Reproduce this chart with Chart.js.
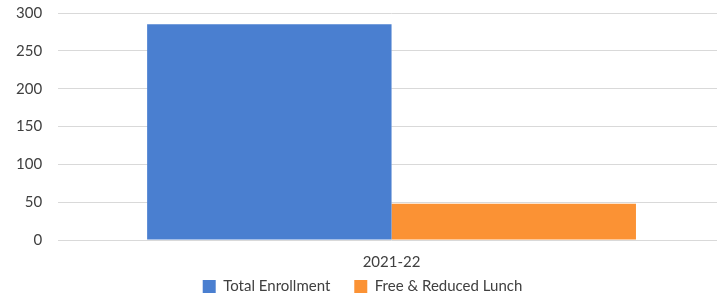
<!DOCTYPE html>
<html>
<head>
<meta charset="utf-8">
<script src="https://cdn.jsdelivr.net/npm/chart.js@4/dist/chart.umd.min.js"></script>
<style>
  html, body { margin: 0; padding: 0; background: #fff; overflow: hidden; }
  .chart-box { width: 725px; height: 296px; }
</style>
</head>
<body>
<div class="chart-box"><canvas id="enrollment-chart"></canvas></div>
<script>
// Data
const years = ['2021-22'];
const totalEnrollment = [285];
const freeReducedLunch = [48];
const yTicks = [0, 50, 100, 150, 200, 250, 300];

const textColor = '#404040';
const gridColor = '#d9d9d9';

Chart.defaults.font.family = 'Lato, "Open Sans", sans-serif';
Chart.defaults.font.size = 15;
Chart.defaults.color = textColor;

// legend keeps a wide gap between items but sits close under the x labels
const legendShift = {
    id: 'legendShift',
    afterLayout(chart) {
        const lg = chart.legend;
        lg.top = lg.bottom - 41;
        lg.height = 41;
    }
};

let ctx = document.querySelector('#enrollment-chart').getContext('2d');

let enrollmentChart = new Chart(ctx, {
    type: 'bar',
    data: {
        labels: years,
        datasets: [{
            label: 'Total Enrollment',
            data: totalEnrollment,
            backgroundColor: '#4a7fd0',
            borderWidth: 0
        }, {
            label: 'Free & Reduced Lunch',
            data: freeReducedLunch,
            backgroundColor: '#fb9234',
            borderWidth: 0
        }]
    },
    options: {
        responsive: true,
        maintainAspectRatio: false,
        animation: false,
        layout: {
            autoPadding: false,
            padding: {top: 13, right: 0, left: 0, bottom: 0}
        },
        datasets: {
            bar: {
                categoryPercentage: 0.733,
                barPercentage: 1
            }
        },
        scales: {
            x: {
                grid: {display: false, drawTicks: false},
                border: {display: false},
                ticks: {padding: 13},
                afterFit: (scale) => {
                    scale.height = 33;
                }
            },
            y: {
                min: 0,
                max: 300,
                afterBuildTicks: (axis) => {
                    axis.ticks = yTicks.map(v => ({value: v}));
                },
                afterFit: (scale) => {
                    scale.paddingTop = 9;
                    scale.paddingBottom = 9;
                },
                grid: {color: gridColor, drawTicks: false},
                border: {display: false},
                ticks: {padding: 16}
            }
        },
        plugins: {
            legend: {
                position: 'bottom',
                maxHeight: 23,
                labels: {
                    boxWidth: 13,
                    boxHeight: 13,
                    padding: 24,
                    font: {size: 15}
                }
            },
            tooltip: {enabled: false}
        },
        events: []
    },
    plugins: [legendShift]
});
</script>
</body>
</html>
